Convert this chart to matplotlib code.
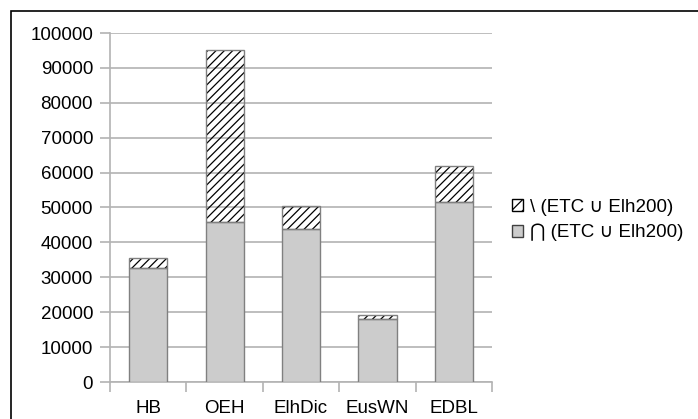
import matplotlib
matplotlib.use("Agg")
import matplotlib.pyplot as plt
from matplotlib.patches import Rectangle, Patch
import numpy as np

categories = ["HB", "OEH", "ElhDic", "EusWN", "EDBL"]
intersection = [32600, 45900, 43700, 18000, 51500]
total = [35400, 95100, 50400, 19300, 61900]
difference = [t - i for t, i in zip(total, intersection)]
yticks = list(range(0, 100001, 10000))
label_diff = "\\ (ETC \u222a Elh200)"
label_inter = "\u22c2 (ETC \u222a Elh200)"

plt.rcParams['font.family'] = ['Liberation Sans', 'DejaVu Sans']
plt.rcParams['hatch.linewidth'] = 0.9

fig = plt.figure(figsize=(6.98, 4.19), dpi=100)
ax = fig.add_axes([110/698, 1-382/419, (492-110)/698, (382-33)/419])

x = np.arange(len(categories))
w = 0.5
grid_c = "#b3b3b3"
edge_c = "#808080"
fs = 13.5

ax.bar(x, intersection, w, color="#cccccc", edgecolor=edge_c, linewidth=1, zorder=3)
ax.bar(x, difference, w, bottom=intersection, facecolor="none", edgecolor="black",
       hatch="////", linewidth=0, zorder=3)
ax.bar(x, difference, w, bottom=intersection, facecolor="none", edgecolor=edge_c,
       linewidth=1, zorder=4)

ax.set_xlim(-0.5, len(categories) - 0.5)
ax.set_ylim(0, 100000)
ax.set_yticks(yticks)
ax.set_yticklabels([str(v) for v in yticks])
ax.yaxis.grid(True, color=grid_c, linewidth=1.2, zorder=0)
ax.set_axisbelow(True)

ax.set_xticks(x)
ax.set_xticklabels(categories)
ax.set_xticks(np.arange(-0.5, len(categories), 1), minor=True)
ax.tick_params(axis='x', which='major', length=0, pad=13, labelsize=fs)
ax.tick_params(axis='x', which='minor', length=7.5, color=grid_c, width=1.2)
ax.tick_params(axis='y', length=7.2, color=grid_c, width=1.2, labelsize=fs, pad=5)

for s in ['top', 'right']:
    ax.spines[s].set_visible(False)
for s in ['left', 'bottom']:
    ax.spines[s].set_color(grid_c)
    ax.spines[s].set_linewidth(1.2)

# outer frame
fig.patches.append(Rectangle((11/698, -0.05), 1.0, 1 - 11/419 + 0.05,
                             transform=fig.transFigure, fill=False,
                             edgecolor="black", linewidth=1.2))

h_diff = Patch(facecolor="white", edgecolor="black", hatch="///", linewidth=1)
h_inter = Patch(facecolor="#cccccc", edgecolor="#404040", linewidth=1)
fig.legend([h_diff, h_inter], [label_diff, label_inter], loc="center left",
           bbox_to_anchor=(506/698, 1 - 220/419), frameon=False, fontsize=fs,
           handlelength=0.6, handleheight=0.6, handletextpad=0.4,
           labelspacing=0.45, borderaxespad=0, borderpad=0.3)

fig.savefig("out.png", dpi=100)
